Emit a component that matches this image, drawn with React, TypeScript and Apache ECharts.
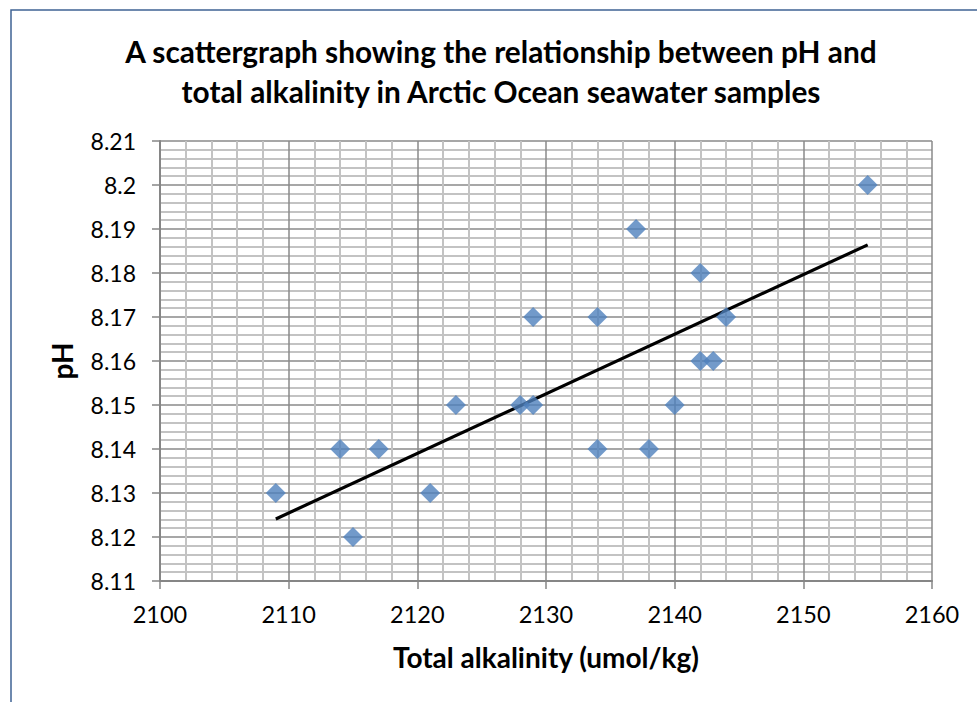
import React, { useEffect, useRef } from "react";
import * as echarts from "echarts";

const titleLines = [
  "A scattergraph showing the relationship between pH and",
  "total alkalinity in Arctic Ocean seawater samples",
];
const xAxisName = "Total alkalinity (umol/kg)";
const yAxisName = "pH";

const alkalinity = [2109, 2114, 2117, 2115, 2121, 2123, 2128, 2129, 2129, 2134, 2134, 2137, 2138, 2140, 2142, 2142, 2143, 2144, 2155];
const pH = [8.13, 8.14, 8.14, 8.12, 8.13, 8.15, 8.15, 8.15, 8.17, 8.17, 8.14, 8.19, 8.14, 8.15, 8.18, 8.16, 8.16, 8.17, 8.2];

const trendX = [2109, 2155];
const trendY = [8.1241, 8.1864];

const xMin = 2100, xMax = 2160, xStep = 10;
const yMin = 8.11, yMax = 8.21, yStep = 0.01;

const FONT = "Lato, 'Liberation Sans', sans-serif";

export default function App() {
  const ref = useRef<HTMLDivElement>(null);
  useEffect(() => {
    if (!ref.current) return;
    const chart = echarts.init(ref.current, null, { renderer: "svg" });
    const points = alkalinity.map((x, i) => [x, pH[i]]);
    const trend = trendX.map((x, i) => [x, trendY[i]]);
    chart.setOption({
      animation: false,
      backgroundColor: "#ffffff",
      title: {
        text: titleLines.join("\n"),
        left: 496,
        top: 26,
        textAlign: "center",
        textStyle: { fontFamily: FONT, fontWeight: "bold", fontSize: 29.8, lineHeight: 40, color: "#000" },
      },
      grid: { left: 160, right: 45, top: 141, bottom: 121, containLabel: false },
      xAxis: {
        type: "value",
        min: xMin,
        max: xMax,
        interval: xStep,
        name: xAxisName,
        nameLocation: "middle",
        nameGap: 62,
        nameTextStyle: { fontFamily: FONT, fontWeight: "bold", fontSize: 28, color: "#000" },
        axisLine: { show: true, lineStyle: { color: "#868686", width: 2 } },
        axisTick: { show: true, inside: false, length: 8, lineStyle: { color: "#868686", width: 1.5 } },
        axisLabel: {
          fontFamily: FONT,
          fontSize: 23.5,
          color: "#000",
          margin: 21,
          formatter: (v: number) => String(v),
        },
        splitLine: { show: true, lineStyle: { color: "#8a8a8a", width: 1.5 } },
        minorTick: { show: false, splitNumber: 5 },
        minorSplitLine: { show: true, lineStyle: { color: "#c3c3c3", width: 2 } },
      },
      yAxis: {
        type: "value",
        min: yMin,
        max: yMax,
        interval: yStep,
        name: yAxisName,
        nameLocation: "middle",
        nameRotate: 90,
        nameGap: 84,
        nameTextStyle: { fontFamily: FONT, fontWeight: "bold", fontSize: 28, color: "#000" },
        axisLine: { show: true, lineStyle: { color: "#868686", width: 2 } },
        axisTick: { show: true, inside: false, length: 8, lineStyle: { color: "#868686", width: 1.5 } },
        axisLabel: {
          fontFamily: FONT,
          fontSize: 23,
          color: "#000",
          margin: 24,
          formatter: (v: number) => String(parseFloat(v.toFixed(2))),
        },
        splitLine: { show: true, lineStyle: { color: "#8a8a8a", width: 1.5 } },
        minorTick: { show: false, splitNumber: 5 },
        minorSplitLine: { show: true, lineStyle: { color: "#c3c3c3", width: 2 } },
      },
      graphic: [
        {
          type: "rect",
          shape: { x: 11, y: 10, width: 1200, height: 1000 },
          style: { fill: "none", stroke: "#3f6394", lineWidth: 1.5 },
          silent: true,
          z: 100,
        },
      ],
      series: [
        {
          type: "line",
          data: trend,
          showSymbol: false,
          symbol: "none",
          lineStyle: { color: "#000", width: 3.2 },
          z: 3,
        },
        {
          type: "scatter",
          data: points,
          symbol: "diamond",
          symbolSize: 20,
          itemStyle: { color: "#4f81bd" },
          z: 4,
        },
      ],
    });
    return () => chart.dispose();
  }, []);
  return (
    <div
      ref={ref}
      style={{ position: "fixed", left: 0, top: 0, width: 977, height: 702 }}
    />
  );
}
